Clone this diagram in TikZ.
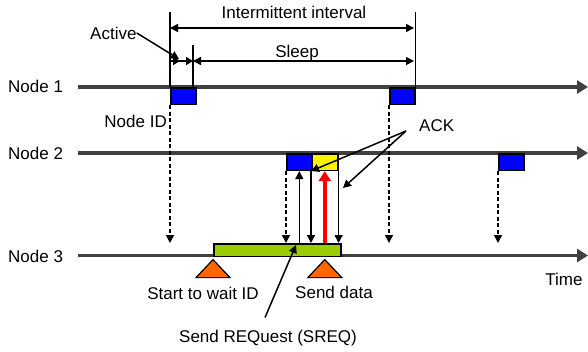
\documentclass[tikz,border=0pt]{standalone}
\usepackage{fontspec}
\setmainfont{Liberation Sans}
\usetikzlibrary{arrows.meta}
\definecolor{lineg}{HTML}{404040}
\definecolor{slotgreen}{HTML}{99CC00}
\definecolor{trig}{HTML}{FF6600}
\tikzset{
  txt/.style={font=\fontsize{17}{20}\selectfont, inner sep=0pt},
  tline/.style={line width=3.2pt, draw=lineg, -{Triangle[length=11pt,width=13pt]}},
  ptr/.style={line width=1.5pt, -{Triangle[length=8pt,width=8pt]}},
  dptr/.style={ptr, dash pattern=on 4pt off 2.5pt},
  dim/.style={line width=1.5pt, {Triangle[length=8pt,width=8pt]}-{Triangle[length=8pt,width=8pt]}},
  slot/.style={draw, line width=1.6pt, inner sep=0pt, minimum width=25pt, minimum height=16.5pt, anchor=north west}
}

\begin{document}
\begin{tikzpicture}[x=1pt, y=-1pt]
\useasboundingbox (0,0) rectangle (588,351);

\node[txt, anchor=base west] (n1) at (8,92) {Node 1};
\node[txt, anchor=base west] (n2) at (8,159) {Node 2};
\node[txt, anchor=base west] (n3) at (8,262) {Node 3};
\coordinate (s1) at (78,87);    \coordinate (e1) at (588,87);
\coordinate (s2) at (78,153);   \coordinate (e2) at (588,153);
\coordinate (s3) at (78,255.5); \coordinate (e3) at (588,255.5);
\draw[tline] (s1) -- (e1);
\draw[tline] (s2) -- (e2);
\draw[tline] (s3) -- (e3);

\node[slot, fill=blue] (b11) at (170,87) {};
\node[slot, fill=blue] (b12) at (389,87) {};
\node[slot, fill=blue] (b21) at (286,153) {};
\node[slot, fill=yellow, minimum width=26pt] (y21) at (311,153) {};
\node[slot, fill=blue] (b22) at (498,153) {};
\node[slot, fill=slotgreen, minimum width=127pt, minimum height=12.5pt] (gb) at (213,243) {};

\coordinate (sl) at (193,45);
\draw[line width=1.5pt] (b11.north west) -- ++(0,-75);
\draw[line width=1.5pt] (sl) -- (193,87);
\draw[line width=1.5pt] (b12.north east) -- ++(0,-75);
\draw[dim] (170,28) -- (414,28);
\draw[dim] (sl |- 0,61) -- (414,61);
\draw[line width=1.5pt, -{Triangle[length=7pt,width=8pt,sep=6pt]Triangle[length=7pt,width=8pt]}] (170,61) -- (193,61);
\node[txt, anchor=base] (ii) at (294,18.5) {Intermittent interval};
\node[txt, anchor=base] (sp) at (297,57) {Sleep};
\node[txt, anchor=base west] (act) at (90,39) {Active};
\draw[ptr] (act.east) -- (179,59);
\node[txt, anchor=base east] (nid) at (167,127) {Node ID};

\draw[dptr] (b11.south west) -- (b11.south west |- gb.north);
\draw[dptr] (b12.south west) -- (b12.south west |- gb.north);
\draw[dptr] (b21.south west) -- (b21.south west |- gb.north);
\draw[dptr] (b22.south west) -- (b22.south west |- gb.north);
\draw[ptr] (b21.south |- gb.north) -- (b21.south);
\draw[ptr] (y21.south west) -- (y21.south west |- gb.north);
\draw[ptr] (y21.south east) -- (y21.south east |- gb.north);
\draw[line width=4pt, red, -{Triangle[length=10pt,width=12pt]}] (y21.south |- gb.north) -- (y21.south);

\node[txt, anchor=base west] (ack) at (419,131) {ACK};
\coordinate (ak) at (406,131);
\draw[ptr] (ak) -- (y21.south west);
\draw[ptr] (ak) -- (343,188);

\filldraw[fill=trig, line width=1.2pt] (gb.south west) ++(0,2.5) -- ++(-17,18) -- ++(34,0) -- cycle;
\filldraw[fill=trig, line width=1.2pt] (y21.south |- gb.south) ++(0,2.5) -- ++(-17,18) -- ++(34,0) -- cycle;
\node[txt, anchor=base] (sw) at (203,299) {Start to wait ID};
\node[txt, anchor=base] (sd) at (334,298) {Send data};
\node[txt, anchor=base] (tm) at (564,285) {Time};
\node[txt, anchor=base] (sq) at (268,342) {Send REQuest (SREQ)};
\coordinate (sqtip) at (296,245);
\draw[ptr] ([shift={(-3pt,12pt)}]sq.north) -- (sqtip);

\end{tikzpicture}
\end{document}
